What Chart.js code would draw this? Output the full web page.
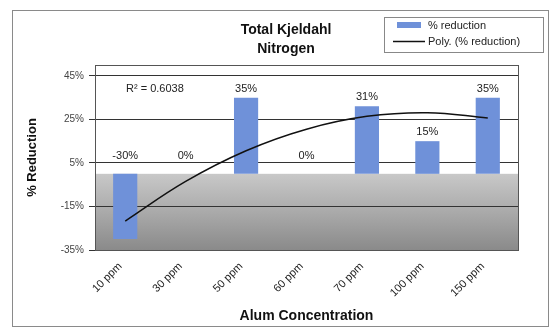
<!DOCTYPE html>
<html>
<head>
<meta charset="utf-8">
<script src="https://cdn.jsdelivr.net/npm/chart.js@4/dist/chart.umd.min.js"></script>
<style>
  html, body { margin: 0; padding: 0; background: #ffffff; }
  #wrap { width: 552px; height: 329px; position: relative; }
</style>
</head>
<body>
<div id="wrap"><canvas id="c" width="552" height="329"></canvas></div>
<script>
// ---- data ----
const categories = ['10 ppm', '30 ppm', '50 ppm', '60 ppm', '70 ppm', '100 ppm', '150 ppm'];
const reductionValues = [-30, 0, 35, 0, 31, 15, 35];
const reductionLabels = ['-30%', '0%', '35%', '0%', '31%', '15%', '35%'];
const trendValues = [-21.7, -3.5, 10.6, 20.5, 26.4, 28.1, 25.7];
const yTickValues = [-35, -15, 5, 25, 45];
const titleLines = ['Total Kjeldahl', 'Nitrogen'];
const legendLabels = ['% reduction', 'Poly. (% reduction)'];
const rSquaredText = 'R² = 0.6038';

const FONT = '"Liberation Sans", Arial, sans-serif';
const BLUE = '#6f91d9';

const decorPlugin = {
  id: 'decor',
  beforeDraw(chart) {
    const ctx = chart.ctx;
    const ca = chart.chartArea;
    const y = chart.scales.y;
    ctx.save();
    // outer frame
    ctx.strokeStyle = '#8a8a8a';
    ctx.lineWidth = 1;
    ctx.strokeRect(12.5, 10.5, 536, 316);
    // gray fill below zero
    const y0 = y.getPixelForValue(0);
    const g = ctx.createLinearGradient(0, y0, 0, ca.bottom);
    g.addColorStop(0, '#c8c8c8');
    g.addColorStop(0.5, '#aaaaaa');
    g.addColorStop(1, '#8a8a8a');
    ctx.fillStyle = g;
    ctx.fillRect(ca.left, y0, ca.right - ca.left, ca.bottom - y0);
    ctx.restore();
  },
  afterDatasetsDraw(chart) {
    const ctx = chart.ctx;
    const ca = chart.chartArea;
    const ys = chart.scales.y;
    const meta = chart.getDatasetMeta(0);
    ctx.save();
    // plot border
    ctx.strokeStyle = '#555';
    ctx.lineWidth = 1;
    ctx.strokeRect(Math.round(ca.left) + 0.5, Math.round(ca.top) + 0.5,
                   Math.round(ca.right - ca.left), Math.round(ca.bottom - ca.top));
    // data labels
    ctx.fillStyle = '#222';
    ctx.font = '11px ' + FONT;
    ctx.textAlign = 'center';
    ctx.textBaseline = 'middle';
    const y0 = ys.getPixelForValue(0);
    meta.data.forEach((bar, i) => {
      const v = reductionValues[i];
      const ly = v > 0 ? ys.getPixelForValue(v) - 9 : y0 - 18;
      ctx.fillText(reductionLabels[i], bar.x, ly);
    });
    // R squared
    ctx.textAlign = 'left';
    ctx.fillText(rSquaredText, 126, 89);
    // title
    ctx.fillStyle = '#111';
    ctx.font = 'bold 14px ' + FONT;
    ctx.textAlign = 'center';
    ctx.fillText(titleLines[0], 286, 30);
    ctx.fillText(titleLines[1], 286, 49);
    // legend
    ctx.strokeStyle = '#888';
    ctx.strokeRect(384.5, 17.5, 159, 35);
    ctx.fillStyle = BLUE;
    ctx.fillRect(397, 22, 24, 6);
    ctx.strokeStyle = '#111';
    ctx.lineWidth = 1.5;
    ctx.beginPath();
    ctx.moveTo(393, 41.5);
    ctx.lineTo(425, 41.5);
    ctx.stroke();
    ctx.fillStyle = '#222';
    ctx.font = '11px ' + FONT;
    ctx.textAlign = 'left';
    ctx.fillText(legendLabels[0], 428, 26);
    ctx.fillText(legendLabels[1], 428, 42);
    ctx.restore();
  }
};

new Chart(document.getElementById('c'), {
  data: {
    labels: categories,
    datasets: [
      {
        type: 'line',
        label: legendLabels[1],
        data: trendValues,
        borderColor: '#111',
        borderWidth: 1.5,
        pointRadius: 0,
        tension: 0.4,
        fill: false,
        order: 0
      },
      {
        type: 'bar',
        label: legendLabels[0],
        data: reductionValues,
        backgroundColor: BLUE,
        borderWidth: 0,
        categoryPercentage: 1,
        barPercentage: 0.4,
        order: 1
      }
    ]
  },
  options: {
    responsive: false,
    animation: false,
    devicePixelRatio: 1,
    layout: { padding: { left: 14, top: 65, right: 34, bottom: 0 } },
    plugins: {
      legend: { display: false },
      title: { display: false },
      tooltip: { enabled: false }
    },
    scales: {
      x: {
        grid: { display: false, drawTicks: false },
        border: { display: false },
        ticks: {
          minRotation: 45,
          maxRotation: 45,
          padding: 10,
          labelOffset: -5,
          color: '#222',
          font: { family: FONT, size: 11 }
        },
        title: {
          display: true,
          text: 'Alum Concentration',
          color: '#111',
          font: { family: FONT, size: 14, weight: 'bold' },
          padding: { top: 0, bottom: 4 }
        },
        afterFit(s) { s.height = 79; }
      },
      y: {
        min: -35,
        max: 50,
        afterBuildTicks(s) { s.ticks = yTickValues.map(v => ({ value: v })); },
        grid: { color: '#333', lineWidth: 1, tickLength: 6, drawOnChartArea: true },
        border: { display: false },
        ticks: {
          padding: 5,
          color: '#444',
          font: { family: FONT, size: 10 },
          callback: v => v + '%'
        },
        title: {
          display: true,
          text: '% Reduction',
          color: '#111',
          font: { family: FONT, size: 13, weight: 'bold' },
          padding: { top: 11, bottom: 0 }
        },
        afterFit(s) { s.width = 81; }
      }
    }
  },
  plugins: [decorPlugin]
});
</script>
</body>
</html>
